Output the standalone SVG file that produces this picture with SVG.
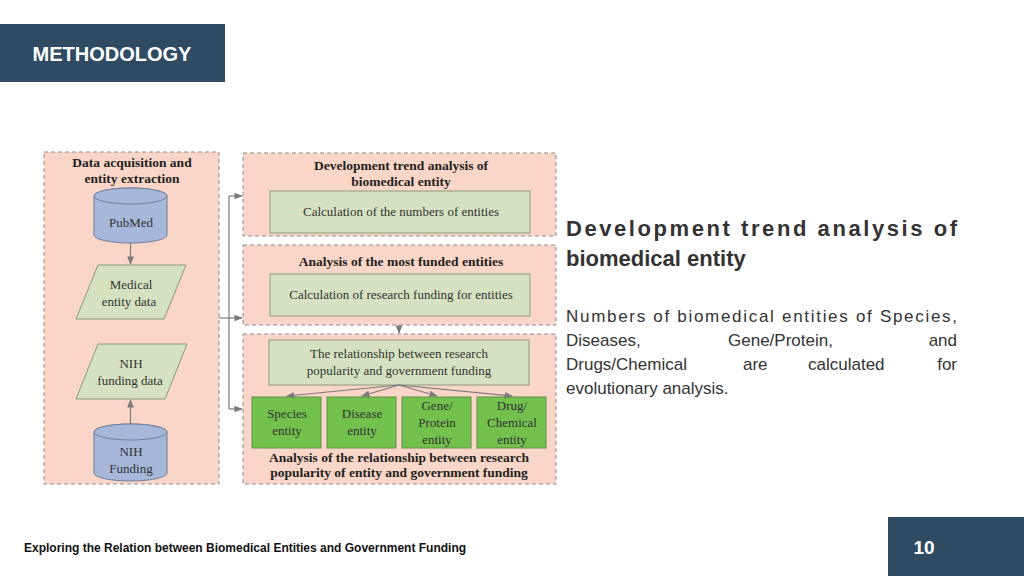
<svg xmlns="http://www.w3.org/2000/svg" width="1024" height="576" viewBox="0 0 1024 576">
<style>
.panel{fill:#f9d6c7;stroke:#8c8c8c;stroke-width:1;stroke-dasharray:4 3}
.gbox{fill:#d4e2c1;stroke:#8a9a78;stroke-width:1}
.dbox{fill:#72c14c;stroke:#5e8f48;stroke-width:1}
.cyl{fill:#a6b7da;stroke:#6f7f9a;stroke-width:1}
.t{font-family:"Liberation Serif",serif;font-size:13px;fill:#333;text-anchor:middle}
.tb{font-family:"Liberation Serif",serif;font-size:13.5px;font-weight:bold;fill:#222;text-anchor:middle}
.line{fill:none;stroke:#7a7a7a;stroke-width:1.2}
.s{font-family:"Liberation Sans",Arial,sans-serif;fill:#333}
</style>
<defs>
<marker id="ah" viewBox="0 0 10 10" refX="9" refY="5" markerWidth="7" markerHeight="7" orient="auto"><path d="M0,1 L10,5 L0,9 z" fill="#7a7a7a"/></marker>
</defs>
<rect width="1024" height="576" fill="#fff"/>
<g id="header"><rect x="0" y="24" width="225" height="58" fill="#2f4a63"/><text x="112" y="61" text-anchor="middle" class="s" style="font-size:20px;font-weight:bold;fill:#fff">METHODOLOGY</text></g>

<g id="panel-left"><rect class="panel" x="44" y="152" width="175" height="332"/>
<text class="tb" x="132" y="167">Data acquisition and</text><text class="tb" x="132" y="183">entity extraction</text></g>
<g id="pubmed"><path class="cyl" d="M94,196 L94,235 A36.5,8 0 0 0 167,235 L167,196 A36.5,8 0 0 0 94,196 Z"/><ellipse class="cyl" cx="130.5" cy="196" rx="36.5" ry="8"/><text class="t" x="131" y="227">PubMed</text></g>
<g id="medical"><polygon class="gbox" points="98,265 186,265 164,319 76,319"/><text class="t" x="131" y="289">Medical</text><text class="t" x="129" y="306">entity data</text></g>
<g id="nihdata"><polygon class="gbox" points="98,344 187,344 165,399 76,399"/><text class="t" x="131" y="368">NIH</text><text class="t" x="130" y="385">funding data</text></g>
<g id="nihfund"><path class="cyl" d="M94,432 L94,473 A36.5,8 0 0 0 167,473 L167,432 A36.5,8 0 0 0 94,432 Z"/><ellipse class="cyl" cx="130.5" cy="432" rx="36.5" ry="8"/><text class="t" x="131" y="456">NIH</text><text class="t" x="131" y="473">Funding</text></g>

<g id="panel-trend"><rect class="panel" x="243" y="153" width="313" height="83"/>
<text class="tb" x="401" y="170">Development trend analysis of</text><text class="tb" x="401" y="186">biomedical entity</text>
<rect class="gbox" x="270" y="191" width="260" height="42"/><text class="t" x="401" y="216">Calculation of the numbers of entities</text></g>
<g id="panel-funded"><rect class="panel" x="243" y="245" width="313" height="80"/>
<text class="tb" x="401" y="266">Analysis of the most funded entities</text>
<rect class="gbox" x="270" y="274" width="260" height="42"/><text class="t" x="401" y="299">Calculation of research funding for entities</text></g>
<g id="panel-rel"><rect class="panel" x="243" y="334" width="313" height="150"/>
<rect class="gbox" x="269" y="340" width="260" height="45"/><text class="t" x="399" y="358">The relationship between research</text><text class="t" x="399" y="375">popularity and government funding</text>
<text class="tb" x="399" y="462">Analysis of the relationship between research</text><text class="tb" x="399" y="477">popularity of entity and government funding</text></g>
<g id="species"><rect class="dbox" x="252" y="397" width="69" height="51"/><text class="t" x="287" y="418">Species</text><text class="t" x="287" y="435">entity</text></g>
<g id="disease"><rect class="dbox" x="327" y="397" width="69" height="51"/><text class="t" x="362" y="418">Disease</text><text class="t" x="362" y="435">entity</text></g>
<g id="gene"><rect class="dbox" x="402" y="397" width="69" height="51"/><text class="t" x="437" y="410">Gene/</text><text class="t" x="437" y="427">Protein</text><text class="t" x="437" y="444">entity</text></g>
<g id="drug"><rect class="dbox" x="477" y="397" width="69" height="51"/><text class="t" x="512" y="410">Drug/</text><text class="t" x="512" y="427">Chemical</text><text class="t" x="512" y="444">entity</text></g>

<g id="connectors">
<line class="line" x1="130.5" y1="243" x2="130.5" y2="264" marker-end="url(#ah)"/>
<line class="line" x1="130.5" y1="424" x2="130.5" y2="400" marker-end="url(#ah)"/>
<line class="line" x1="219" y1="318" x2="229" y2="318"/>
<line class="line" x1="229" y1="196" x2="229" y2="409"/>
<line class="line" x1="229" y1="196" x2="242" y2="196" marker-end="url(#ah)"/>
<line class="line" x1="229" y1="318" x2="242" y2="318" marker-end="url(#ah)"/>
<line class="line" x1="229" y1="409" x2="242" y2="409" marker-end="url(#ah)"/>
<line class="line" x1="399" y1="326" x2="399" y2="333" marker-end="url(#ah)"/>
<line class="line" x1="399" y1="385" x2="287" y2="396" marker-end="url(#ah)"/>
<line class="line" x1="399" y1="385" x2="362" y2="396" marker-end="url(#ah)"/>
<line class="line" x1="399" y1="385" x2="437" y2="396" marker-end="url(#ah)"/>
<line class="line" x1="399" y1="385" x2="512" y2="396" marker-end="url(#ah)"/>
</g>

<g id="description">
<text class="s" x="566" y="236" textLength="391" lengthAdjust="spacing" style="font-size:22px;font-weight:bold">Development trend analysis of</text>
<text class="s" x="566" y="266" style="font-size:22px;font-weight:bold">biomedical entity</text>
<g style="font-size:17px">
<text class="s" x="566" y="322" textLength="391" lengthAdjust="spacing">Numbers of biomedical entities of Species,</text>
<text class="s" x="566" y="346">Diseases,</text><text class="s" x="728" y="346">Gene/Protein,</text><text class="s" x="957" y="346" text-anchor="end">and</text>
<text class="s" x="566" y="370">Drugs/Chemical</text><text class="s" x="743" y="370">are</text><text class="s" x="808" y="370">calculated</text><text class="s" x="957" y="370" text-anchor="end">for</text>
<text class="s" x="566" y="394">evolutionary analysis.</text>
</g></g>

<g id="footer">
<text class="s" x="24" y="552" style="font-size:12px;font-weight:bold;fill:#111">Exploring the Relation between Biomedical Entities and Government Funding</text>
<rect x="888" y="517" width="136" height="59" fill="#2f4a63"/>
<text class="s" x="924" y="554" text-anchor="middle" style="font-size:19px;font-weight:bold;fill:#fff">10</text>
</g>
</svg>
